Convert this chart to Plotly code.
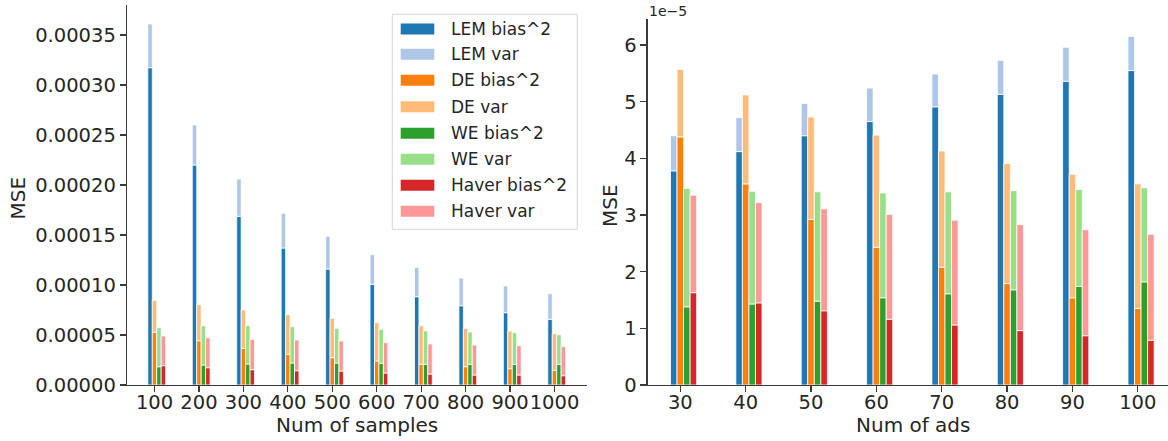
import plotly.graph_objects as go

# ---------------- data ----------------
samples = ["100", "200", "300", "400", "500", "600", "700", "800", "900", "1000"]
lem_bias_s = [317.3e-6, 220.0e-6, 168.7e-6, 137.0e-6, 116.0e-6, 100.7e-6, 88.3e-6, 79.3e-6, 72.3e-6, 65.7e-6]
lem_var_s = [43.7e-6, 40.0e-6, 37.3e-6, 34.7e-6, 32.7e-6, 29.6e-6, 29.4e-6, 27.7e-6, 26.7e-6, 25.6e-6]
de_bias_s = [52.7e-6, 44.3e-6, 36.7e-6, 30.7e-6, 27.3e-6, 24.0e-6, 20.7e-6, 18.3e-6, 16.3e-6, 14.7e-6]
de_var_s = [32.0e-6, 36.0e-6, 38.3e-6, 39.6e-6, 39.4e-6, 38.3e-6, 38.6e-6, 38.4e-6, 37.7e-6, 36.6e-6]
we_bias_s = [18.3e-6, 20.0e-6, 21.0e-6, 22.0e-6, 22.0e-6, 21.7e-6, 20.7e-6, 20.7e-6, 20.7e-6, 20.7e-6]
we_var_s = [39.0e-6, 39.3e-6, 38.3e-6, 36.3e-6, 34.7e-6, 34.0e-6, 33.3e-6, 32.3e-6, 31.6e-6, 29.6e-6]
haver_bias_s = [19.3e-6, 17.3e-6, 15.3e-6, 14.3e-6, 14.0e-6, 12.0e-6, 11.0e-6, 10.0e-6, 10.0e-6, 9.3e-6]
haver_var_s = [29.7e-6, 30.0e-6, 30.4e-6, 30.7e-6, 30.0e-6, 30.3e-6, 30.0e-6, 30.0e-6, 29.3e-6, 29.0e-6]

ads = ["30", "40", "50", "60", "70", "80", "90", "100"]
lem_bias_a = [3.78e-5, 4.12e-5, 4.40e-5, 4.65e-5, 4.91e-5, 5.13e-5, 5.36e-5, 5.55e-5]
lem_var_a = [0.62e-5, 0.60e-5, 0.57e-5, 0.59e-5, 0.58e-5, 0.60e-5, 0.60e-5, 0.60e-5]
de_bias_a = [4.38e-5, 3.55e-5, 2.92e-5, 2.43e-5, 2.08e-5, 1.79e-5, 1.54e-5, 1.35e-5]
de_var_a = [1.19e-5, 1.57e-5, 1.81e-5, 1.98e-5, 2.05e-5, 2.12e-5, 2.18e-5, 2.20e-5]
we_bias_a = [1.38e-5, 1.43e-5, 1.48e-5, 1.54e-5, 1.61e-5, 1.68e-5, 1.74e-5, 1.82e-5]
we_var_a = [2.09e-5, 1.99e-5, 1.93e-5, 1.85e-5, 1.80e-5, 1.75e-5, 1.71e-5, 1.66e-5]
haver_bias_a = [1.63e-5, 1.45e-5, 1.31e-5, 1.16e-5, 1.06e-5, 0.96e-5, 0.87e-5, 0.79e-5]
haver_var_a = [1.72e-5, 1.77e-5, 1.80e-5, 1.85e-5, 1.85e-5, 1.87e-5, 1.87e-5, 1.87e-5]

series_names = ["LEM bias^2", "LEM var", "DE bias^2", "DE var",
                "WE bias^2", "WE var", "Haver bias^2", "Haver var"]
left_ticks = [0, 0.00005, 0.0001, 0.00015, 0.0002, 0.00025, 0.0003, 0.00035]
right_ticks = [0, 1e-5, 2e-5, 3e-5, 4e-5, 5e-5, 6e-5]
right_tick_text = ["0", "1", "2", "3", "4", "5", "6"]

# ---------------- style ----------------
COLORS = ["#1f77b4", "#aec7e8", "#ff7f0e", "#ffbb78",
          "#2ca02c", "#98df8a", "#d62728", "#ff9896"]
FONT = "DejaVu Sans"
TXT = "#262626"
W, H = 1168, 441
BAR_W = 0.1
OFFSETS = [-0.15, -0.05, 0.05, 0.15]


def px(x):
    return x / W


def py(y):
    return 1 - y / H


fig = go.Figure()

panels = [
    (samples, [(lem_bias_s, lem_var_s), (de_bias_s, de_var_s),
               (we_bias_s, we_var_s), (haver_bias_s, haver_var_s)], "x", "y"),
    (ads, [(lem_bias_a, lem_var_a), (de_bias_a, de_var_a),
           (we_bias_a, we_var_a), (haver_bias_a, haver_var_a)], "x2", "y2"),
]

for cats, methods, xa, ya in panels:
    for k, (bias, var) in enumerate(methods):
        fig.add_trace(go.Bar(
            x=cats, y=bias, base=[0] * len(cats), width=BAR_W, offset=OFFSETS[k],
            marker=dict(color=COLORS[2 * k], line=dict(color="white", width=0.8)),
            name=series_names[2 * k], showlegend=False, xaxis=xa, yaxis=ya))
        fig.add_trace(go.Bar(
            x=cats, y=var, base=bias, width=BAR_W, offset=OFFSETS[k],
            marker=dict(color=COLORS[2 * k + 1], line=dict(color="white", width=0.8)),
            name=series_names[2 * k + 1], showlegend=False, xaxis=xa, yaxis=ya))

axis_common = dict(showline=True, linecolor="#3a3a3a", linewidth=1.25,
                   ticks="outside", ticklen=6, tickwidth=1.25, tickcolor="#3a3a3a",
                   showgrid=False, zeroline=False, automargin=False,
                   tickfont=dict(family=FONT, size=19.5, color=TXT))

fig.update_layout(
    width=W, height=H,
    margin=dict(l=0, r=0, t=0, b=0, autoexpand=False),
    paper_bgcolor="white", plot_bgcolor="white",
    barmode="overlay",
    showlegend=False,
    xaxis=dict(domain=[px(127), px(587)], anchor="y", type="category",
               range=[-0.619, 9.732], tickangle=0, ticklabelstandoff=-7,
               **axis_common),
    yaxis=dict(domain=[py(385), py(5)], anchor="x", range=[0, 380e-6],
               tickvals=left_ticks, tickformat=".5f", **axis_common),
    xaxis2=dict(domain=[px(647.7), 1.0], anchor="y2", type="category",
                range=[-0.499, 7.462], tickangle=0, ticklabelstandoff=-7,
                **axis_common),
    yaxis2=dict(domain=[py(385), py(19)], anchor="x2", range=[0, 6.46e-5],
                tickvals=right_ticks, ticktext=right_tick_text, **axis_common),
)

annotations = [
    dict(text="Num of samples", x=px(357), y=py(425), size=20, angle=0),
    dict(text="Num of ads", x=px(913), y=py(425), size=20, angle=0),
    dict(text="MSE", x=px(17.5), y=py(198), size=20, angle=-90),
    dict(text="MSE", x=px(610), y=py(206), size=20, angle=-90),
]
for a in annotations:
    fig.add_annotation(text=a["text"], x=a["x"], y=a["y"], xref="paper", yref="paper",
                       xanchor="center", yanchor="middle", showarrow=False,
                       textangle=a["angle"],
                       font=dict(family=FONT, size=a["size"], color=TXT))

fig.add_annotation(text="1e\u22125", x=px(647), y=py(10.5), xref="paper", yref="paper",
                   xanchor="left", yanchor="middle", showarrow=False,
                   font=dict(family=FONT, size=14, color=TXT))

# ---------------- legend (drawn manually to match wide swatches) ----------------
fig.add_shape(type="rect", xref="paper", yref="paper",
              x0=px(392.3), x1=px(577.3), y0=py(229.3), y1=py(14.3),
              line=dict(color="#d5d5d5", width=1), fillcolor="rgba(255,255,255,0.8)",
              layer="above")
row_y = [29, 54.3, 80.3, 106.7, 133.3, 159.3, 185.3, 211.3]
for i, name in enumerate(series_names):
    yc = row_y[i]
    fig.add_shape(type="rect", xref="paper", yref="paper",
                  x0=px(400.7), x1=px(434.3), y0=py(yc + 5.5), y1=py(yc - 5.5),
                  line=dict(width=0), fillcolor=COLORS[i], layer="above")
    fig.add_annotation(text=name, x=px(448.5), y=py(yc), xref="paper", yref="paper",
                       xanchor="left", yanchor="middle", showarrow=False,
                       font=dict(family=FONT, size=17, color=TXT))

page_js = (
    "var s='margin:0;padding:0;overflow:hidden;width:1168px;height:441px;';"
    "document.documentElement.style.cssText=s;document.body.style.cssText=s;"
)

fig.write_html(
    "out.html",
    config={"displayModeBar": False, "staticPlot": True},
    post_script=page_js,
)
